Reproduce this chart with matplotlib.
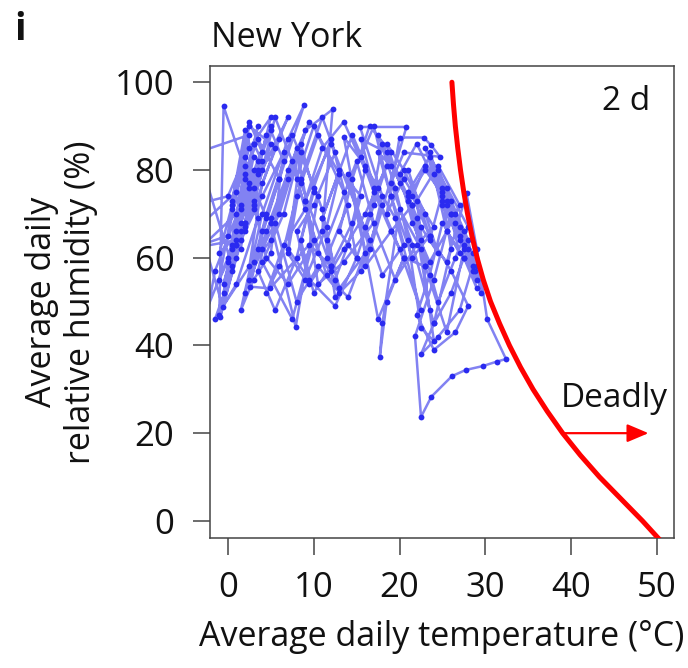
import numpy as np
import matplotlib
matplotlib.use("Agg")
import matplotlib.pyplot as plt

plt.rcParams['font.family'] = ['Open Sans', 'DejaVu Sans']

# Daily mean temperature (degC) and relative humidity (%) for New York, month by month
jan_t = [1.5, 3.0, 0.5, -1.0, 2.0, 4.5, 3.0, 0.0, -2.5, -4.0, 1.0, 2.5, 5.0, 3.5, 1.0, -0.5,
         0.5, 2.0, 3.5, 1.5, -1.5, -3.0, -5.5, 1.0, 3.0, 4.0, 2.0, 0.5, -3.5, 2.5, 0.0]
jan_rh = [62, 80, 71, 55, 68, 88, 76, 60, 48, 66, 75, 85, 92, 80, 66, 52,
          63, 78, 90, 72, 57, 41, 58, 70, 86, 82, 67, 58, 84, 88, 65]
feb_t = [-4.5, 1.0, 3.0, 2.0, 0.5, 2.5, 4.0, 1.5, -0.5, 0.5, 2.0, 3.5, 6.0, 4.5, 2.0, 0.0,
         1.5, 3.0, 1.0, -1.0, -0.5, 2.5, 5.0, 3.5, 2.0, 4.0, 6.5, 5.0]
feb_rh = [62, 64, 83, 89, 73, 91, 84, 68, 54, 62, 79, 87, 78, 69, 81, 59,
          71, 86, 63, 47, 94.5, 77, 90, 82, 66, 74, 84, 61]
mar_t = [3.0, 1.5, 4.0, 7.0, 8.9, 6.0, 3.5, 2.0, 5.0, 7.9, 10.5, 7.5, 4.0, 2.6, 4.9, 9.5,
         12.0, 8.5, 5.5, 3.0, 4.5, 7.0, 11.0, 12.2, 9.0, 6.5, 4.0, 7.5, 10.0, 8.0, 5.5]
mar_rh = [55, 48, 70, 87, 94.9, 78, 62, 52, 68, 44.2, 74, 88, 66, 53.4, 53, 63,
          58, 77, 92, 72, 60, 54, 66, 93.8, 89, 70, 59, 46, 64, 85, 68]
apr_t = [8.0, 10.5, 13.0, 11.0, 8.5, 7.0, 9.5, 12.5, 15.0, 13.5, 10.0, 8.0, 11.5, 14.0, 16.5,
         12.0, 9.0, 10.5, 13.5, 17.0, 15.0, 11.5, 12.5, 15.5, 18.0, 14.5, 11.0, 13.0, 16.0, 14.0]
apr_rh = [50, 58, 52, 71, 84, 62, 55, 49, 60, 75, 90, 78, 56, 51, 64,
          86, 73, 54, 59, 68, 82, 64, 51, 57, 72, 88, 69, 53, 61, 79]
may_t = [16.5, 18.0, 15.4, 20.8, 16.0, 19.0, 21.5, 18.5, 15.5, 17.0, 20.0, 22.5, 19.5, 16.0,
         13.5, 17.5, 20.5, 23.0, 21.0, 18.0, 16.5, 19.5, 22.0, 24.0, 20.5, 17.5, 19.0, 21.5,
         23.5, 21.0, 18.5]
may_rh = [62, 74, 89.8, 89.8, 58, 66, 72, 84, 87, 76, 62, 48, 69, 81,
          87.5, 46, 60, 58, 73, 86, 70, 55, 63, 67, 78, 84, 74, 60,
          65, 80, 70]
jun_t = [20.0, 22.8, 23.7, 24.7, 20.5, 19.0, 21.5, 24.0, 26.0, 25.0, 22.0, 20.0, 21.5, 23.5,
         25.5, 27.0, 24.5, 22.0, 23.0, 25.5, 27.5, 26.0, 23.5, 21.0, 22.5, 24.5, 26.5, 28.0,
         25.5, 23.0]
jun_rh = [87.4, 87.4, 85.6, 83, 84, 77, 63, 45, 62, 74, 86, 79, 68, 59,
          66, 72, 81, 73, 58, 43, 62, 70, 83, 75, 64, 50, 60, 67, 76, 85]
jul_t = [25.0, 27.0, 28.5, 26.5, 24.0, 25.5, 27.5, 29.0, 28.0, 26.0, 24.5, 26.5, 28.5, 29.5,
         29.0, 27.0, 25.0, 23.5, 25.5, 27.8, 29.0, 30.2, 32.4, 31.3, 29.7, 27.7, 26.1, 23.7,
         22.5, 21.8, 24.0]
jul_rh = [72, 64, 57, 70, 79, 66, 60, 55, 64, 73, 80, 68, 61, 52,
          58, 67, 75, 64, 59, 74.7, 62, 46, 36.9, 36.3, 35.3, 34.4, 33.0, 28.3,
          23.7, 42.1, 55]
aug_t = [26.0, 28.0, 28.8, 27.5, 25.0, 23.5, 25.0, 27.0, 28.5, 27.0, 24.5, 22.5, 24.0, 26.0,
         27.5, 29.0, 27.5, 25.5, 23.0, 21.5, 23.5, 26.0, 28.0, 26.5, 24.0, 22.0, 23.5, 25.0,
         27.0, 25.5, 23.0]
aug_rh = [70, 62, 57, 66, 76, 84, 73, 65, 58, 48, 42, 38, 45, 52,
          60, 53, 63, 72, 81, 74, 65, 57, 49, 43, 39, 47, 56, 68,
          61, 73, 80]
sep_t = [21.0, 22.5, 24.5, 23.0, 20.5, 18.5, 20.0, 22.0, 23.5, 21.5, 19.0, 17.5, 19.5, 21.0,
         22.5, 24.0, 22.5, 20.0, 18.0, 17.7, 18.5, 20.5, 19.0, 17.0, 15.5, 17.0, 19.0, 20.5,
         18.0, 16.0]
sep_rh = [74, 67, 61, 70, 80, 86, 77, 69, 48, 72, 81, 88, 76, 64,
          44, 41, 62, 71, 45, 37.4, 50, 60, 66, 75, 83, 90, 74, 63, 56, 67]
oct_t = [17.5, 19.0, 16.5, 14.5, 13.0, 15.0, 17.0, 18.5, 16.0, 13.5, 12.0, 11.0, 13.0, 15.5,
         14.0, 12.5, 10.5, 9.0, 11.0, 13.5, 16.0, 14.5, 12.0, 10.0, 8.5, 10.0, 12.0, 14.0,
         11.5, 9.5, 8.0]
oct_rh = [76, 84, 90, 78, 66, 60, 72, 81, 70, 62, 57, 69, 80, 74,
          63, 55, 61, 73, 85, 91, 80, 68, 58, 52, 64, 76, 87, 72,
          60, 54, 66]
nov_t = [10.0, 12.5, 11.0, 8.5, 7.0, 9.0, 11.5, 13.0, 10.5, 8.0, 6.0, 4.5, 6.5, 9.0, 7.5,
         5.0, 3.5, 5.5, 8.0, 10.0, 8.5, 6.0, 4.0, 2.5, 4.5, 7.0, 9.5, 7.0, 5.0, 3.0]
nov_rh = [72, 84, 92, 78, 61, 55, 67, 79, 88, 74, 58, 52, 63, 71, 82,
          69, 57, 48, 60, 75, 86, 70, 62, 55, 66, 78, 91, 80, 64, 59]
dec_t = [4.5, 6.5, 5.0, 2.5, 1.0, 3.0, 5.5, 7.0, 4.0, 2.0, 0.5, -1.5, 1.0, 3.5, 2.0, 0.0,
         -4.0, -0.6, 2.5, 4.0, 6.0, 3.5, 1.5, -0.9, 1.0, 3.0, 5.0, 2.5, 0.5, -1.0, 1.5]
dec_rh = [70, 82, 89, 76, 63, 71, 85, 92, 80, 68, 57, 46, 54, 69, 83, 74,
          72, 48.8, 58, 77, 87, 79, 64, 46.5, 60, 73, 86, 90, 72, 61, 66]

temp = np.array(jan_t + feb_t + mar_t + apr_t + may_t + jun_t +
                jul_t + aug_t + sep_t + oct_t + nov_t + dec_t)
humidity = np.array(jan_rh + feb_rh + mar_rh + apr_rh + may_rh + jun_rh +
                    jul_rh + aug_rh + sep_rh + oct_rh + nov_rh + dec_rh)

# Deadly threshold for a 2-day exposure
thr_t = [26.1, 26.28, 26.5, 26.78, 27.1, 27.48, 27.92, 28.43, 29.03, 29.75, 30.6, 31.65,
         32.8, 34.1, 35.55, 37.2, 39.0, 41.05, 43.3, 45.8, 48.3, 50.4]
thr_rh = [100, 95, 90, 85, 80, 75, 70, 65, 60, 55, 50, 45,
          40, 35, 30, 25, 20, 15, 10, 5, 0, -4.5]

xticks = [0, 10, 20, 30, 40, 50]
yticks = [0, 20, 40, 60, 80, 100]

fig = plt.figure(figsize=(6.88, 6.68), dpi=100)
ax = fig.add_axes([0.305, 0.1946, 0.675, 0.7066])

ax.plot(temp, humidity, '-', color='#8282f2', lw=1.8, zorder=2)
ax.plot(temp, humidity, 'o', color='#2a2af0', ms=4.2, mec='none', zorder=3)
ax.plot(thr_t, thr_rh, '-', color='#ff0000', lw=3.6, solid_capstyle='round',
        solid_joinstyle='round', zorder=4)

ax.annotate('', xy=(49.0, 20), xytext=(39.0, 20),
            arrowprops=dict(arrowstyle='-|>,head_length=1.3,head_width=0.55',
                            color='#ff0000', lw=1.6, shrinkA=0, shrinkB=0), zorder=5)
ax.text(45.0, 28.0, 'Deadly', fontsize=24, ha='center', va='center', color='#111111')
ax.text(46.4, 95.5, '2 d', fontsize=24, ha='center', va='center', color='#111111')

ax.set_xlim(-2.1, 52.0)
ax.set_ylim(-3.9, 103.7)
ax.set_xticks(xticks)
ax.set_yticks(yticks)
ax.set_xticklabels([str(v) for v in xticks])
ax.set_yticklabels([str(v) for v in yticks])
ax.tick_params(direction='out', length=12.5, width=1.1, colors='#444444',
               labelcolor='#111111', labelsize=25)
ax.tick_params(axis='x', pad=11)
ax.tick_params(axis='y', pad=13)
for s in ax.spines.values():
    s.set_color('#444444')
    s.set_linewidth(1.1)

fig.text(0.0894, 0.548, 'Average daily\nrelative humidity (%)', rotation=90,
         ha='center', va='center', multialignment='center', fontsize=24.5,
         linespacing=1.2, color='#111111')
fig.text(0.642, 0.046, 'Average daily temperature (\u00b0C)', ha='center', va='center',
         fontsize=24.5, color='#111111')
fig.text(211 / 688, 1 - 47 / 668, 'New York', ha='left', va='baseline', fontsize=24.5,
         color='#111111')
fig.text(14 / 688, 1 - 40 / 668, 'i', ha='left', va='baseline', fontsize=27,
         fontweight='bold', color='#111111')

fig.savefig('out.png', dpi=100)
